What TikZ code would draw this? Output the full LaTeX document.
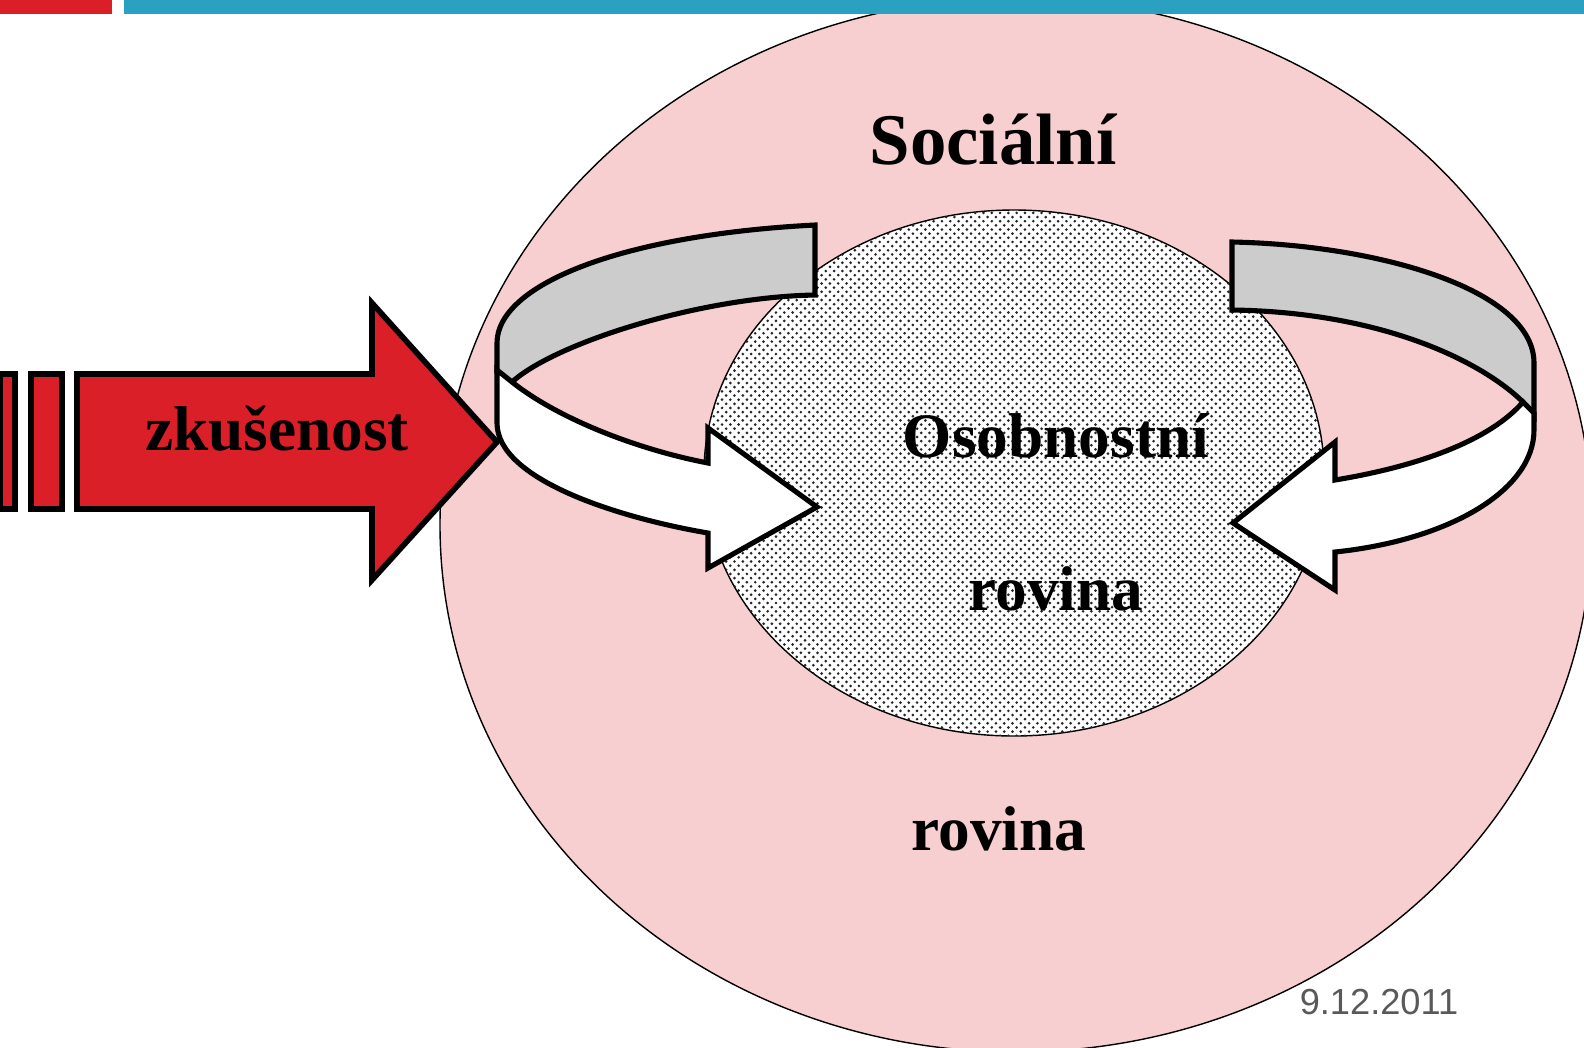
\documentclass[tikz,border=0pt]{standalone}
\usepackage{fontspec}
\setmainfont{Liberation Serif}
\newfontfamily\datefont{Liberation Sans}
\usetikzlibrary{patterns}

\definecolor{pinkfill}{RGB}{248,207,209}
\definecolor{redfill}{RGB}{218,31,40}
\definecolor{bluebar}{RGB}{42,161,192}
\definecolor{bandgray}{RGB}{204,204,204}
\definecolor{dategray}{RGB}{89,89,89}

\pgfdeclarepatternformonly{finedots}{\pgfqpoint{-.6pt}{-.6pt}}{\pgfqpoint{3pt}{3pt}}{\pgfqpoint{2.36pt}{2.36pt}}{%
  \pgfpathcircle{\pgfqpoint{0pt}{0pt}}{.42pt}%
  \pgfpathcircle{\pgfqpoint{1.18pt}{1.18pt}}{.42pt}%
  \pgfusepath{fill}}

\tikzset{
  planetext/.style={anchor=base, font=\bfseries\fontsize{18}{22}\selectfont},
  band/.style={line width=1.45pt, line join=miter}
}

\begin{document}
\begin{tikzpicture}[x=0.01cm, y=-0.01cm]
  \useasboundingbox (0, 0) rectangle (1584, 1047);
  \clip (0, 0) rectangle (1584, 1047);

  % Social plane
  \draw [fill=pinkfill, line width=0.4pt] (1016, 525) ellipse [x radius=576, y radius=527];

  % Personal plane
  \filldraw [fill=white, line width=0.4pt] (1014, 473) ellipse [x radius=310, y radius=263];
  \fill [pattern=finedots, pattern color=black!85] (1014, 473) ellipse [x radius=310, y radius=263];

  % Header bars
  \fill [redfill] (0, 0) rectangle (112, 14);
  \fill [bluebar] (124, 0) rectangle (1584, 14);

  % Experience arrow
  \draw [fill=redfill, line width=1.6pt] (0.5, 374) rectangle (15, 509);
  \draw [fill=redfill, line width=1.6pt] (31, 374) rectangle (62, 509);
  \draw [fill=redfill, line width=1.6pt, line join=miter] (77, 374) -- (372, 374)
    -- (372, 303) -- (497, 442) -- (372, 580) -- (372, 509) -- (77, 509) -- cycle;

  % Left loop
  \draw [band, fill=bandgray] (815, 225) .. controls (620, 235) and (497, 285) .. (497, 343)
    -- (497, 372) -- (512, 382) .. controls (555, 343) and (700, 297) .. (815, 295) -- cycle;
  \draw [band, fill=white] (497, 370) -- (512, 382) .. controls (560, 420) and (640, 450) .. (708, 463)
    -- (708, 428) -- (817, 507) -- (708, 568) -- (708, 533)
    .. controls (620, 518) and (497, 480) .. (497, 423) -- cycle;

  % Right loop
  \draw [band, fill=bandgray] (1232, 242) .. controls (1380, 245) and (1534, 290) .. (1534, 363)
    -- (1534, 415) -- (1523, 402) .. controls (1480, 360) and (1380, 312) .. (1232, 310) -- cycle;
  \draw [band, fill=white] (1534, 413) -- (1534, 430) .. controls (1534, 490) and (1450, 540) .. (1335, 552)
    -- (1335, 590) -- (1233, 523) -- (1335, 442) -- (1335, 480)
    .. controls (1420, 466) and (1490, 440) .. (1523, 402) -- cycle;

  % Labels
  \node [planetext, font=\bfseries\fontsize{20.7}{24}\selectfont] (social) at (993, 164) {Sociální};
  \node [planetext] (socialrow) at (999, 850) {rovina};
  \node [planetext] (personal) at (1056, 457) {Osobnostní};
  \node [planetext] (personalrow) at (1056, 610) {rovina};
  \node [planetext] (experience) at (277, 450) {zkušenost};

  % Date
  \node [anchor=base, text=dategray, font=\datefont\fontsize{10.3}{12}\selectfont] (date) at (1379, 1014) {9.12.2011};
\end{tikzpicture}
\end{document}
